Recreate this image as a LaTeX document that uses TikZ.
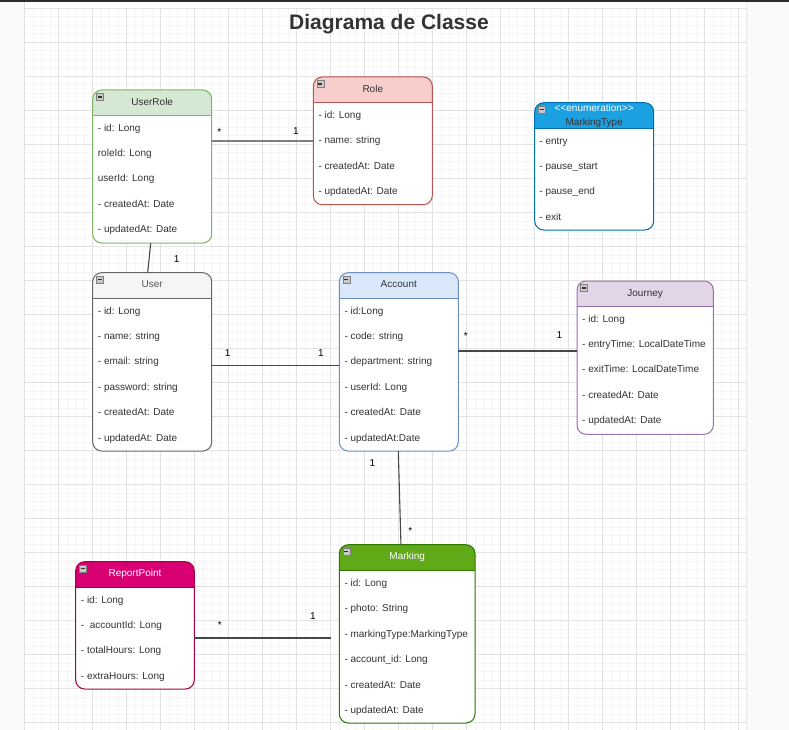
\documentclass[tikz,border=0pt]{standalone}
\usepackage{fontspec}
\setmainfont{Liberation Sans}
\definecolor{urfill}{HTML}{D5E8D4}\definecolor{urline}{HTML}{82B366}
\definecolor{rofill}{HTML}{F8CECC}\definecolor{roline}{HTML}{B85450}
\definecolor{mtfill}{HTML}{1BA1E2}\definecolor{mtline}{HTML}{006EAF}
\definecolor{usfill}{HTML}{F5F5F5}\definecolor{usline}{HTML}{666666}
\definecolor{acfill}{HTML}{DAE8FC}\definecolor{acline}{HTML}{6C8EBF}
\definecolor{jofill}{HTML}{E1D5E7}\definecolor{joline}{HTML}{9673A6}
\definecolor{mkfill}{HTML}{60A917}\definecolor{mkline}{HTML}{2D7600}
\definecolor{rpfill}{HTML}{D80073}\definecolor{rpline}{HTML}{A50040}
\definecolor{txt}{HTML}{333333}
\definecolor{gridminor}{HTML}{F5F5F5}
\definecolor{gridmajor}{HTML}{E2E2E2}
\definecolor{marginc}{HTML}{FAFAFA}
\definecolor{topbar}{HTML}{2B2B30}
\definecolor{iconfill}{HTML}{C8C8C8}
\definecolor{iconline}{HTML}{808080}
\tikzset{
  attr/.style={font=\fontsize{10}{12}\selectfont, text=txt, inner sep=0pt, anchor=base west},
  ctitle/.style={font=\fontsize{10}{12}\selectfont, inner sep=0pt, anchor=base},
  mult/.style={font=\fontsize{10}{12}\selectfont, text=black, inner sep=0pt, anchor=base},
  conn/.style={draw=black!72, line width=1.1pt},
  minorline/.style={draw=gridminor, line width=1pt},
  majorline/.style={draw=gridmajor, line width=1pt},
}
% name, x1, y1, x2, y2, header bottom, colour prefix
\newcommand\umlbox[7]{%
  \node[inner sep=0pt,outer sep=0pt,minimum width={#4-#2},minimum height={#5-#3}] (#1) at ({(#2+#4)/2},{(#3+#5)/2}) {};
  \fill[white, rounded corners=9pt] (#1.north west) rectangle (#1.south east);
  \begin{scope}
    \clip[rounded corners=9pt] (#1.north west) rectangle (#1.south east);
    \fill[#7fill] (#2,#3) rectangle (#4,#6);
  \end{scope}
  \draw[#7line, line width=1pt] (#2,#6) -- (#4,#6);
  \draw[#7line, line width=1pt, rounded corners=9pt] (#1.north west) rectangle (#1.south east);
  \draw[iconline, fill=iconfill, line width=0.6pt] ({#2+3.5},{#3+3.5}) rectangle ++(7,7);
  \draw[black!80, line width=1.3pt] ({#2+5},{#3+7}) -- ++(4,0);
}
% name, x1, header bottom, list
\newcommand\umlattrs[4]{%
  \foreach \t [count=\k] in {#4} {
    \node[attr] (#1-a\k) at ({#2+5},{#3+12+(\k-1)*25.4+3.8}) {\t};
  }
}
\begin{document}
\begin{tikzpicture}[x=1pt,y=-1pt]
\useasboundingbox (0,0) rectangle (789,730);
% background
\fill[marginc] (0,0) rectangle (789,730);
\fill[white] (24,2) rectangle (746.5,730);
\foreach \i in {0,...,85} {
  \draw[minorline] ({24.5+\i*8.5},8) -- ({24.5+\i*8.5},730);
  \draw[minorline] (24,{8.5+\i*8.5}) -- (746.5,{8.5+\i*8.5});
}
\foreach \i in {0,...,21} {
  \draw[majorline] ({24.5+\i*34},8) -- ({24.5+\i*34},730);
  \draw[majorline] (24,{8.5+\i*34}) -- (746.5,{8.5+\i*34});
}
\draw[black!12, line width=0.8pt] (24,2) -- (24,730);
\draw[black!8, line width=0.8pt] (746.5,2) -- (746.5,730);
\fill[topbar] (0,0) rectangle (789,2.5);

% title
\node[font=\fontsize{21}{24}\selectfont\bfseries, text=txt, inner sep=0pt, anchor=base] (title) at (389,30) {Diagrama de Classe};

% UserRole
\umlbox{ur}{92.7}{90}{211.7}{243}{115.3}{ur}
\node[ctitle, text=txt] (ur-t) at (152.2,105.9) {UserRole};
\umlattrs{ur}{92.7}{115.3}{- id: Long, roleId: Long, userId: Long, - createdAt: Date, - updatedAt: Date}

% Role
\umlbox{ro}{313.3}{77}{432.3}{204.7}{102.7}{ro}
\node[ctitle, text=txt] (ro-t) at (372.8,92.6) {Role};
\umlattrs{ro}{313.3}{102.7}{- id: Long, - name: string, - createdAt: Date, - updatedAt: Date}

% MarkingType
\umlbox{mt}{534.7}{102.7}{653.7}{230}{128.3}{mt}
\node[ctitle, text=white] (mt-s) at (594.2,111.3) {<\kern0pt<enumeration>\kern0pt>};
\node[ctitle, text=txt] (mt-t) at (594.2,125.3) {MarkingType};
\umlattrs{mt}{534.2}{128.3}{- entry, - pause\_start, - pause\_end, - exit}

% User
\umlbox{us}{92.7}{272.7}{211.7}{451}{298.3}{us}
\node[ctitle, text=black!65] (us-t) at (152.2,287.6) {User};
\umlattrs{us}{92.7}{298.3}{- id: Long, - name: string, - email: string, - password: string, - createdAt: Date, - updatedAt: Date}

% Account
\umlbox{ac}{339.3}{272.7}{458.3}{451}{298.3}{ac}
\node[ctitle, text=txt] (ac-t) at (398.8,287.6) {Account};
\umlattrs{ac}{339.3}{298.3}{- id:Long, - code: string, - department: string, - userId: Long, - createdAt: Date, - updatedAt:Date}

% Journey
\umlbox{jo}{577}{281}{713.3}{434.3}{306.3}{jo}
\node[ctitle, text=txt] (jo-t) at (645.2,296.9) {Journey};
\umlattrs{jo}{577}{306.3}{- id: Long, - entryTime: LocalDateTime, - exitTime: LocalDateTime, - createdAt: Date, - updatedAt: Date}

% Marking
\umlbox{mk}{339.3}{544.7}{475}{723}{570.7}{mk}
\node[ctitle, text=white] (mk-t) at (407.2,559.6) {Marking};
\umlattrs{mk}{339.3}{570.7}{- id: Long, - photo: String, - markingType:MarkingType, - account\_id: Long, - createdAt: Date, - updatedAt: Date}

% ReportPoint
\umlbox{rp}{75.7}{561.7}{194.3}{689}{587.3}{rp}
\node[ctitle, text=white] (rp-t) at (135,576.9) {ReportPoint};
\umlattrs{rp}{75.7}{587.3}{- id: Long, -\ \ accountId: Long, - totalHours: Long, - extraHours: Long}

% connectors
\draw[conn, draw=black!50, line width=2pt] (ur.east |- ro.west) -- (ro.west);
\draw[conn] ([xshift=-1.5pt]ur.south) -- ([xshift=-4.5pt]us.north);
\draw[conn] ([yshift=-4pt]us.east) -- ([yshift=-4pt]ac.west);
\coordinate (ajc) at ([yshift=6.7pt]jo.west);
\draw[conn] (ac.east |- ajc) -- (ajc);
\draw[conn] ([xshift=-0.5pt]ac.south) -- ([xshift=-6.2pt]mk.north);
\coordinate (rmc) at ([yshift=-12.65pt]rp.east);
\coordinate (mrc) at (mk.west |- rmc);
\draw[conn] (rmc) -- ([xshift=-8.6pt]mrc);

% multiplicities
\node[mult] (m1) at (219.3,135.7) {*};
\node[mult] (m2) at (296,134.9) {1};
\node[mult] (m3) at (176.7,262.6) {1};
\node[mult] (m4) at (227.7,356.3) {1};
\node[mult] (m5) at (321,356.3) {1};
\node[mult] (m6) at (465.7,339.7) {*};
\node[mult] (m7) at (559.3,338.6) {1};
\node[mult] (m8) at (372.3,466.3) {1};
\node[mult] (m9) at (410.3,534.7) {*};
\node[mult] (m10) at (219.7,628) {*};
\node[mult] (m11) at (313,619.6) {1};
\end{tikzpicture}
\end{document}
